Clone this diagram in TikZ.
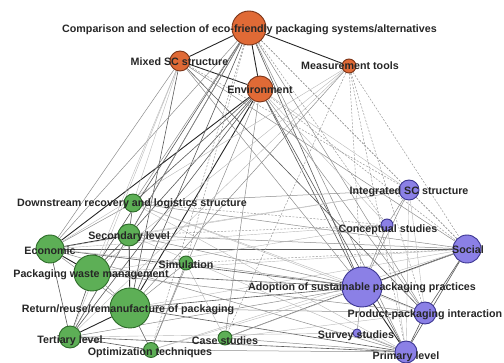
\documentclass[tikz,border=0pt]{standalone}
\usepackage{fontspec}
\setmainfont{Liberation Sans}
\definecolor{orF}{HTML}{E06A36}
\definecolor{orD}{HTML}{7A3418}
\definecolor{grF}{HTML}{5DAF56}
\definecolor{grD}{HTML}{2C6A28}
\definecolor{puF}{HTML}{8B80E6}
\definecolor{puD}{HTML}{3B3591}
\pgfdeclarelayer{bg}
\pgfsetlayers{bg,main}
\tikzset{
  vtx/.style={circle,inner sep=0pt,line width=0.9pt},
  orangenode/.style={vtx,fill=orF,draw=orD},
  greennode/.style={vtx,fill=grF,draw=grD},
  purplenode/.style={vtx,fill=puF,draw=puD},
  lbl/.style={font=\bfseries\fontsize{10.7}{12}\selectfont,text=black!85,inner sep=0pt},
  ek/.style={draw=black!85,line width=0.9pt},
  ed/.style={draw=black!65,line width=0.6pt},
  em/.style={draw=black!45,line width=0.5pt},
  el/.style={draw=black!28,line width=0.4pt},
  es/.style={draw=black!40,line width=0.5pt,dash pattern=on 2pt off 1.5pt},
}
\begin{document}
\begin{tikzpicture}[x=1pt,y=-1pt]
\useasboundingbox (0,0) rectangle (504,363);
% vertices
\node[orangenode,minimum size=34] (C) at (249,28) {};
\node[orangenode,minimum size=20] (M) at (180,61) {};
\node[orangenode,minimum size=26] (E) at (260,89) {};
\node[orangenode,minimum size=14] (MT) at (349,66) {};
\node[greennode,minimum size=18] (D) at (133,203) {};
\node[greennode,minimum size=22] (S) at (129,235) {};
\node[greennode,minimum size=28] (Ec) at (50,249) {};
\node[greennode,minimum size=36] (P) at (92,273) {};
\node[greennode,minimum size=14] (Si) at (186,263) {};
\node[greennode,minimum size=40] (R) at (130,308) {};
\node[greennode,minimum size=22] (T) at (70,337) {};
\node[greennode,minimum size=15] (O) at (151,350) {};
\node[greennode,minimum size=14] (Cs) at (225,338) {};
\node[purplenode,minimum size=20] (I) at (409,190) {};
\node[purplenode,minimum size=12] (Co) at (387,225) {};
\node[purplenode,minimum size=28] (So) at (467,249) {};
\node[purplenode,minimum size=40] (A) at (362,287) {};
\node[purplenode,minimum size=22] (PP) at (425,313) {};
\node[purplenode,minimum size=8] (Su) at (357,333) {};
\node[purplenode,minimum size=22] (Pr) at (406,352) {};
% connectors
\begin{pgfonlayer}{bg}
\foreach \a/\b in {C/E,M/E,C/M,C/MT,S/R,E/Ec,E/R,A/So,A/Pr,R/T,P/Ec,S/Ec}
  \path[ek] (\a) -- (\b);
\foreach \a/\b in {C/R,C/P,C/S,C/A,E/S,E/T,E/A,E/Pr,M/R,M/PP,Ec/A,P/A,R/A,R/Pr,T/Pr,S/T,P/T,Ec/T,D/S,A/PP,PP/Pr,So/PP,So/Pr,Cs/A,Ec/So,R/O,T/O,S/P,E/D}
  \path[ed] (\a) -- (\b);
\foreach \a/\b in {C/Ec,C/T,C/D,C/Pr,C/PP,E/O,E/Cs,E/PP,M/Ec,M/A,M/So,MT/R,Ec/D,P/R,Ec/R,S/A,D/So,R/PP,O/Pr,Cs/Pr,I/A,I/Co,Co/A,A/Su,Su/Pr,Si/R,Si/A,Si/O,D/I,S/So,T/A,P/PP,Ec/Pr}
  \path[em] (\a) -- (\b);
\foreach \a/\b in {M/P,M/T,M/D,MT/Ec,MT/P,MT/T,Si/Ec,Si/Cs,D/A,Ec/I,P/So,Cs/So,O/A,T/Su,I/PP,I/Pr,Co/Pr,D/Pr,S/Pr,Ec/Co,P/Co,S/I,R/So,O/So,Cs/PP,D/PP,E/Co,E/I}
  \path[el] (\a) -- (\b);
\foreach \a/\b in {C/So,C/I,MT/A,MT/Pr,MT/So,MT/PP,C/Co,M/I,E/So,MT/Cs,C/Si,C/O,D/Co,S/Co,Si/So,I/So}
  \path[es] (\a) -- (\b);
\end{pgfonlayer}
% labels
\node[lbl] (lC) at (249.5,30) {Comparison and selection of eco-friendly packaging systems/alternatives};
\node[lbl] (lM) at (179.5,62) {Mixed SC structure};
\node[lbl] (lE) at (260,90) {Environment};
\node[lbl] (lMT) at (350,66) {Measurement tools};
\node[lbl] (lD) at (132,204) {Downstream recovery and logistics structure};
\node[lbl] (lS) at (129,237) {Secondary level};
\node[lbl] (lEc) at (50,251) {Economic};
\node[lbl] (lP) at (91,275) {Packaging waste management};
\node[lbl] (lSi) at (186,265) {Simulation};
\node[lbl] (lR) at (128,310) {Return/reuse/remanufacture of packaging};
\node[lbl] (lT) at (70,341) {Tertiary level};
\node[lbl] (lO) at (150,353) {Optimization techniques};
\node[lbl] (lCs) at (225,341) {Case studies};
\node[lbl] (lI) at (409,192) {Integrated SC structure};
\node[lbl] (lCo) at (388,230) {Conceptual studies};
\node[lbl] (lSo) at (468,250) {Social};
\node[lbl] (lA) at (362,288) {Adoption of sustainable packaging practices};
\node[lbl] (lPP) at (425,315) {Product-packaging interaction};
\node[lbl] (lSu) at (356,336) {Survey studies};
\node[lbl] (lPr) at (406,357) {Primary level};
\end{tikzpicture}
\end{document}
